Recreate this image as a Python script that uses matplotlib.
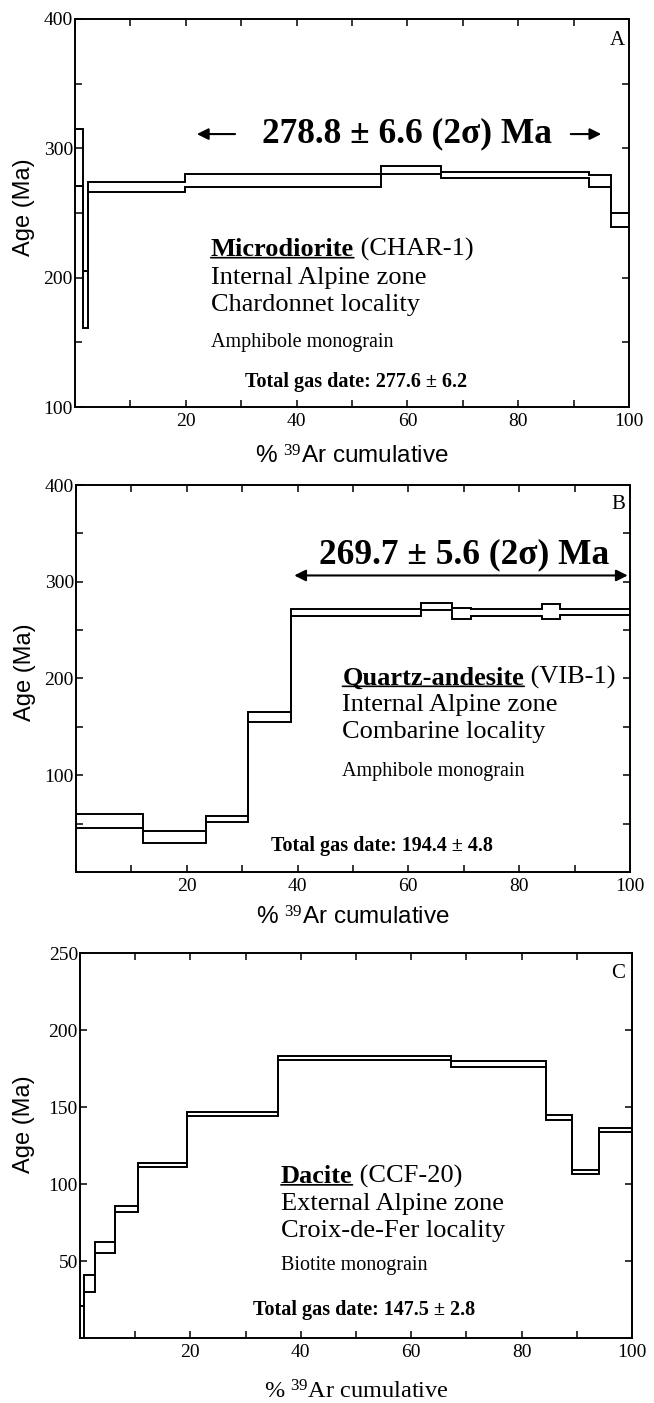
import numpy as np
import matplotlib.pyplot as plt
from matplotlib.ticker import MultipleLocator, FuncFormatter

# step heating spectra, cumulative % 39Ar edges and 2 sigma age limits (Ma)
a_edges = [0, 1.5, 2.3, 19.9, 55.3, 66.1, 92.7, 96.8, 100]
a_lo = [271, 161, 266, 270, 280, 277, 270, 239]
a_hi = [315, 205, 274, 280, 286, 282, 279, 250]

b_edges = [0, 12.1, 23.5, 31.1, 38.9, 62.3, 67.9, 71.3, 84.2, 87.3, 100]
b_lo = [45.5, 30, 51.4, 155.5, 264.5, 270.7, 261.7, 264.5, 261.7, 265.2]
b_hi = [60.3, 42, 58.3, 165, 271.4, 278.3, 272.4, 271.4, 277.2, 271.4]

c_edges = [0, 0.76, 2.7, 6.35, 10.6, 19.4, 35.9, 67.3, 84.4, 89.1, 94.0, 100]
c_lo = [0, 29.7, 55.2, 81.6, 110.8, 144, 180.5, 175.8, 141.8, 106.5, 133.6]
c_hi = [20.6, 40.7, 62.3, 86, 113.6, 147, 183.3, 179.6, 145, 109.3, 136.4]

plateau_a = "278.8 \u00b1 6.6 (2\u03c3) Ma"
plateau_b = "269.7 \u00b1 5.6 (2\u03c3) Ma"

plt.rcParams['font.family'] = 'Liberation Serif'
plt.rcParams['mathtext.fontset'] = 'custom'
plt.rcParams['mathtext.rm'] = 'Liberation Serif'
plt.rcParams['mathtext.it'] = 'Liberation Serif:italic'
plt.rcParams['mathtext.bf'] = 'Liberation Serif:bold'

fig = plt.figure(figsize=(6.54, 14.03), dpi=100)
axA = fig.add_axes([0.1147, 0.7099, 0.847, 0.2766])
axB = fig.add_axes([0.1162, 0.3785, 0.847, 0.2758])
axC = fig.add_axes([0.1223, 0.0463, 0.844, 0.2744])

no_zero = FuncFormatter(lambda v, p: '' if v == 0 else '%d' % v)


def spectrum(ax, edges, lo, hi):
    x = np.repeat(np.asarray(edges, float), 2)[1:-1]
    xs = np.concatenate([x, x[::-1]])
    ys = np.concatenate([np.repeat(hi, 2), np.repeat(lo, 2)[::-1]])
    ax.fill(xs, ys, facecolor='none', edgecolor='black', lw=1.4)


def setup(ax, ymax, ymin, ymajor, yminor, xlab_y, ylab_x, ylab_y, sans_xlabel):
    ax.set_xlim(0, 100)
    ax.set_ylim(ymin, ymax)
    ax.xaxis.set_major_locator(MultipleLocator(20))
    ax.xaxis.set_minor_locator(MultipleLocator(10))
    ax.yaxis.set_major_locator(MultipleLocator(ymajor))
    if yminor:
        ax.yaxis.set_minor_locator(MultipleLocator(yminor))
    ax.xaxis.set_major_formatter(no_zero)
    ax.yaxis.set_major_formatter(no_zero)
    ax.tick_params(which='both', direction='in', top=True, right=True,
                   length=5, width=1.1, labelsize=14)
    ax.tick_params(axis='y', pad=1.5)
    ax.tick_params(axis='x', pad=4)
    for s in ax.spines.values():
        s.set_linewidth(1.4)
    fam = 'Liberation Sans' if sans_xlabel else 'Liberation Serif'
    ax.set_xlabel('% ${}^{39}$Ar cumulative', fontsize=17.5, family=fam)
    ax.xaxis.set_label_coords(0.5, xlab_y)
    ax.set_ylabel('Age (Ma)', fontsize=17, family='Liberation Sans', va='center')
    ax.yaxis.set_label_coords(ylab_x, ylab_y)


def sample_text(ax, x, y, name, code, lines, mineral, total, tx, ty):
    t = ax.text(x, y, name, fontsize=19, fontweight='bold', va='center', ha='left')
    ax.annotate(' ' + code, xy=(1, 0), xycoords=t, fontsize=19, va='bottom', ha='left')
    ax.annotate('', xy=(1, 0.13), xycoords=t, xytext=(0, 0.13), textcoords=t,
                arrowprops=dict(arrowstyle='-', lw=1.2, shrinkA=0, shrinkB=0))
    for txt, yy in lines:
        ax.text(x, yy, txt, fontsize=19, va='center', ha='left')
    ax.text(x, mineral[1], mineral[0], fontsize=14.5, va='center', ha='left')
    ax.text(tx, ty, total, fontsize=14.5, fontweight='bold', va='center', ha='center')


# panel A
spectrum(axA, a_edges, a_lo, a_hi)
setup(axA, 400, 100, 100, 50, -0.098, -0.092, 0.515, True)
axA.text(99.2, 383, 'A', fontsize=15, ha='right', va='center')
axA.text(60, 311, plateau_a, fontsize=25.5, fontweight='bold', ha='center', va='center')
axA.annotate('', xy=(21.5, 311), xytext=(29.4, 311),
             arrowprops=dict(arrowstyle='-|>', lw=1.5, color='black', mutation_scale=17))
axA.annotate('', xy=(95.5, 311), xytext=(89, 311),
             arrowprops=dict(arrowstyle='-|>', lw=1.5, color='black', mutation_scale=17))
sample_text(axA, 24.5, 222, 'Microdiorite', '(CHAR-1)',
            [('Internal Alpine zone', 200), ('Chardonnet locality', 179)],
            ('Amphibole monograin', 150),
            'Total gas date: 277.6 \u00b1 6.2', 50.7, 119)

# panel B
spectrum(axB, b_edges, b_lo, b_hi)
setup(axB, 400, 0, 100, 50, -0.09, -0.092, 0.517, True)
axB.text(99.2, 380, 'B', fontsize=15, ha='right', va='center')
axB.text(70, 328, plateau_b, fontsize=25.5, fontweight='bold', ha='center', va='center')
axB.annotate('', xy=(39.4, 306.5), xytext=(99.6, 306.5),
             arrowprops=dict(arrowstyle='<|-|>', lw=1.5, color='black', mutation_scale=17,
                             shrinkA=0, shrinkB=0))
sample_text(axB, 48.1, 200.7, 'Quartz-andesite', '(VIB-1)',
            [('Internal Alpine zone', 172.4), ('Combarine locality', 144.5)],
            ('Amphibole monograin', 103.4),
            'Total gas date: 194.4 \u00b1 4.8', 55.2, 27)

# panel C
spectrum(axC, c_edges, c_lo, c_hi)
setup(axC, 250, 0, 50, None, -0.109, -0.101, 0.556, False)
axC.text(98.8, 237, 'C', fontsize=15, ha='right', va='center')
sample_text(axC, 36.4, 105, 'Dacite', '(CCF-20)',
            [('External Alpine zone', 87.2), ('Croix-de-Fer locality', 69.3)],
            ('Biotite monograin', 47),
            'Total gas date: 147.5 \u00b1 2.8', 51.5, 18)

plt.savefig('out.png', dpi=100)
